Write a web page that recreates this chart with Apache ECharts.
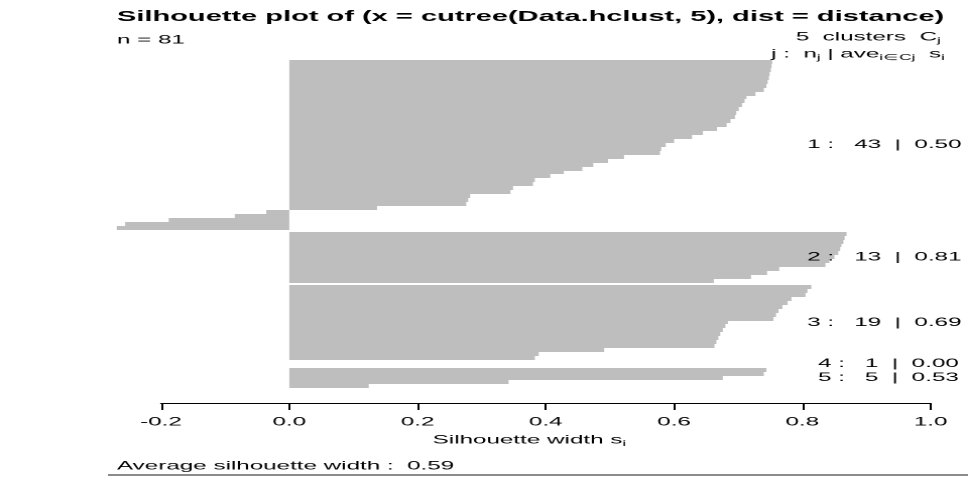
<!DOCTYPE html>
<html><head><meta charset="utf-8">
<script src="https://cdn.jsdelivr.net/npm/echarts@6.0.0/dist/echarts.min.js"></script>
<style>
html,body{margin:0;padding:0;background:#fff;overflow:hidden;width:968px;height:477px}
#c{width:480px;height:477px;transform:scaleX(2.0166667);transform-origin:0 0;}
</style></head><body><div id="c"></div>
<script>
// ---- data (silhouette widths, sorted within each cluster) ----
const cluster1 = [0.753, 0.752, 0.751, 0.749, 0.748, 0.746, 0.744, 0.740, 0.727, 0.713,
                  0.710, 0.706, 0.701, 0.697, 0.695, 0.688, 0.682, 0.667, 0.645, 0.628,
                  0.600, 0.587, 0.580, 0.578, 0.522, 0.497, 0.474, 0.457, 0.428, 0.407,
                  0.383, 0.380, 0.349, 0.345, 0.282, 0.279, 0.276, 0.137,
                  -0.036, -0.085, -0.188, -0.256, -0.269];
const cluster2 = [0.869, 0.866, 0.864, 0.861, 0.859, 0.856, 0.850, 0.842, 0.836, 0.764, 0.745, 0.720, 0.662];
const cluster3 = [0.814, 0.808, 0.805, 0.783, 0.777, 0.769, 0.763, 0.759, 0.755, 0.684,
                  0.680, 0.676, 0.672, 0.669, 0.666, 0.663, 0.491, 0.389, 0.383];
const cluster4 = [0.000];
const cluster5 = [0.744, 0.740, 0.676, 0.342, 0.124];
const clusterAverages = ['0.50', '0.81', '0.69', '0.00', '0.53'];
const xTickValues = [-0.2, 0.0, 0.2, 0.4, 0.6, 0.8, 1.0];
const totalN = 81;
const overallAverage = '0.59';
const titleText = 'Silhouette plot of (x = cutree(Data.hclust, 5), dist = distance)';

// ---- build ----
const clusters = [cluster1, cluster2, cluster3, cluster4, cluster5];
const GAP = 0.5;
const barData = [];
const mids = [];
let pos = 0;
clusters.forEach((vals, ci) => {
  if (ci > 0) pos += GAP;
  const start = pos;
  vals.forEach(v => { barData.push([v, pos]); pos += 1; });
  mids.push((start + pos) / 2);
});
const totalSlots = pos;

const FONT = '"Liberation Sans", Arial, Helvetica, sans-serif';
const mctx = document.createElement('canvas').getContext('2d');
function textWidth(t, size, weight) {
  mctx.font = (weight || 'normal') + ' ' + size + 'px ' + FONT;
  return mctx.measureText(t).width;
}
function textRun(parts, x, y, adj) {
  const ws = parts.map(p => textWidth(p.t, p.size, p.weight));
  const total = ws.reduce((a, b) => a + b, 0);
  let cx = x - adj * total;
  const els = [];
  parts.forEach((p, i) => {
    els.push({
      type: 'text', x: cx, y: y + (p.dy || 0), silent: true, z: 100,
      style: {
        text: p.t, fontSize: p.size, fontFamily: FONT, fontWeight: p.weight || 'normal',
        fill: '#000', align: 'left', verticalAlign: 'middle',
        textAlign: 'left', textVerticalAlign: 'middle'
      }
    });
    cx += ws[i];
  });
  return els;
}

const chart = echarts.init(document.getElementById('c'), null, {renderer: 'canvas', devicePixelRatio: 2});
const gridTop = 60, gridHeight = 327.6;
const option = {
  animation: false,
  grid: {left: 79.83, right: 18.55, top: gridTop, height: gridHeight, containLabel: false},
  xAxis: {
    type: 'value',
    min: xTickValues[0], max: xTickValues[xTickValues.length - 1], interval: 0.2,
    offset: 403 - (gridTop + gridHeight),
    axisLine: {show: true, onZero: false, lineStyle: {color: '#000', width: 1}},
    axisTick: {show: true, length: 7, lineStyle: {color: '#000', width: 1}},
    axisLabel: {show: true, margin: 13, fontSize: 12, fontFamily: FONT, color: '#000',
                formatter: v => v.toFixed(1)},
    splitLine: {show: false}
  },
  yAxis: {type: 'value', min: 0, max: totalSlots, inverse: true, show: false},
  series: [{
    type: 'custom', clip: false, silent: true, z: 2,
    encode: {x: 0, y: 1},
    data: barData,
    renderItem: function (params, api) {
      const v = api.value(0), p = api.value(1);
      const a = api.coord([0, p]);
      const b = api.coord([v, p + 1]);
      const y0 = Math.round(Math.min(a[1], b[1]));
      const y1 = Math.round(Math.max(a[1], b[1]));
      return {
        type: 'rect',
        shape: {x: Math.min(a[0], b[0]), y: y0, width: Math.abs(b[0] - a[0]), height: y1 - y0},
        style: {fill: '#BEBEBE'}
      };
    }
  }]
};
chart.setOption(option);

// ---- texts ----
const g = [];
const plotLeft = 58.0, plotRight = 467.0;
g.push(...textRun([{t: titleText, size: 14.4, weight: 'bold'}], plotLeft, 17, 0));
g.push(...textRun([{t: 'n = ' + totalN, size: 12}], plotLeft, 40, 0));
g.push(...textRun([
  {t: clusters.length + '  clusters  C', size: 12},
  {t: 'j', size: 8.5, dy: 3.5}
], 466.5, 37, 1));
g.push(...textRun([
  {t: 'j :  n', size: 12},
  {t: 'j', size: 8.5, dy: 3.5},
  {t: ' | ave', size: 12},
  {t: 'i\u2208Cj', size: 8.5, dy: 3.5},
  {t: '  s', size: 12},
  {t: 'i', size: 8.5, dy: 3.5}
], 468.5, 54, 1));
// cluster statistics, placed at x = 1 with adj 0.8
clusters.forEach((vals, j) => {
  const p = chart.convertToPixel({gridIndex: 0}, [1.0, mids[j]]);
  const label = (j + 1) + ' :   ' + vals.length + '  |  ' + clusterAverages[j];
  g.push(...textRun([{t: label, size: 12}], p[0], p[1], 0.8));
});
// x axis title
g.push(...textRun([
  {t: 'Silhouette width s', size: 12},
  {t: 'i', size: 8.5, dy: 3.5}
], (plotLeft + plotRight) / 2, 440, 0.5));
// subtitle
g.push(...textRun([{t: 'Average silhouette width :  ' + overallAverage, size: 12}], plotLeft, 466, 0));
// bottom rule
g.push({type: 'line', silent: true, z: 100, shape: {x1: 53.5, y1: 475, x2: 480, y2: 475},
        style: {stroke: '#666', lineWidth: 1.5}});
chart.setOption({graphic: {elements: g}});
</script>
</body></html>
